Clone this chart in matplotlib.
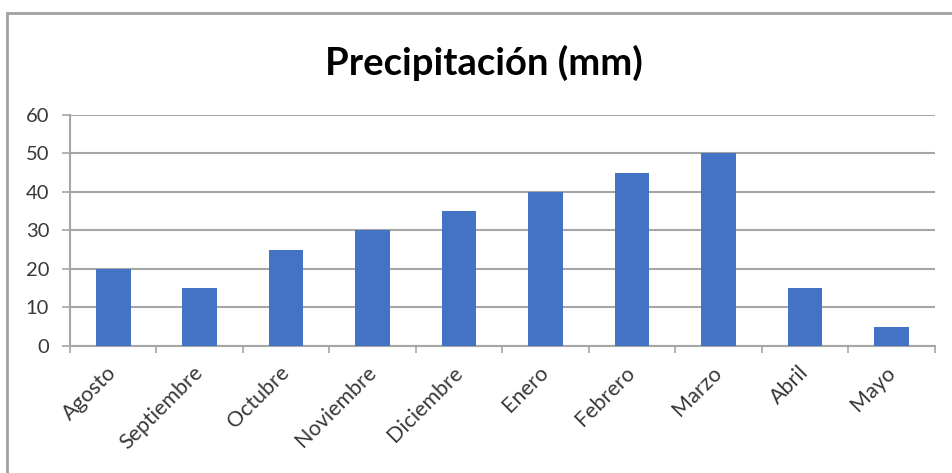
import matplotlib.pyplot as plt
from matplotlib.patches import Rectangle
import numpy as np

meses = ['Agosto', 'Septiembre', 'Octubre', 'Noviembre', 'Diciembre',
         'Enero', 'Febrero', 'Marzo', 'Abril', 'Mayo']
precipitacion = [20, 15, 25, 30, 35, 40, 45, 50, 15, 5]
yticks = [0, 10, 20, 30, 40, 50, 60]

plt.rcParams['font.family'] = ['Lato', 'DejaVu Sans']

fig = plt.figure(figsize=(9.52, 4.73), dpi=100)
ax = fig.add_axes([0.0735, 0.2685, 0.9085, 0.4885])

x = np.arange(len(meses))
ax.bar(x, precipitacion, width=0.4, color='#4472C4', zorder=3)

ax.set_xlim(-0.5, len(meses) - 0.5)
ax.set_ylim(0, 60)
ax.set_yticks(yticks)
ax.yaxis.grid(True, color='#a6a6a6', linewidth=1.5, zorder=0)

# category ticks sit between bars
ax.set_xticks(np.arange(-0.5, len(meses)), minor=False)
ax.set_xticklabels([])
ax.set_xticks(x, minor=True)
ax.set_xticklabels(meses, minor=True, rotation=45, ha='right', va='center',
                   rotation_mode='anchor', fontsize=15.5, color='#383838')
ax.tick_params(axis='x', which='minor', length=0, pad=17)
ax.tick_params(axis='x', which='major', length=5, width=1.2, color='#a6a6a6')
ax.tick_params(axis='y', length=6, width=1.2, color='#a6a6a6',
               labelsize=14.5, labelcolor='#383838', pad=9)

for side in ['top', 'right']:
    ax.spines[side].set_visible(False)
for side in ['left', 'bottom']:
    ax.spines[side].set_color('#a6a6a6')
    ax.spines[side].set_linewidth(1.5)

fig.text(0.5085, 0.868, 'Precipitación (mm)', ha='center', va='center',
         fontsize=27.5, fontweight='bold', color='black')

# outer chart frame
fig.patches.append(Rectangle((7 / 952, -0.1), 1.2, 1 - 13 / 473 + 0.1,
                             transform=fig.transFigure, fill=False,
                             edgecolor='#a0a0a0', linewidth=2))

fig.savefig('out.png', dpi=100)
